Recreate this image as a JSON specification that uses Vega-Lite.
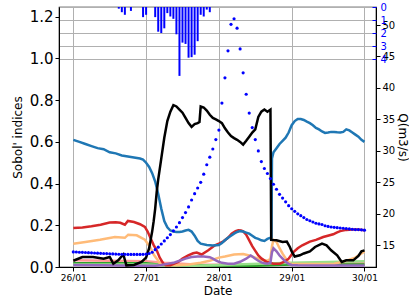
{
 "$schema": "https://vega.github.io/schema/vega-lite/v6.json",
 "width": 317, "height": 260,
 "autosize": {"type": "none"},
 "padding": {"left": 59, "top": 7, "right": 33, "bottom": 33},
 "config": {"font": "DejaVu Sans", "view": {"stroke": "#000", "strokeWidth": 1.2},
   "axis": {"domainColor": "#000", "tickColor": "#000", "labelColor": "#000", "titleColor": "#000", "titleFontWeight": "normal", "gridColor": "#b0b0b0", "gridWidth": 1, "tickSize": 4, "labelPadding": 2}},
 "datasets": {
  "sobol": [
   {"t":"2021-01-26T00:00","s":"p1","v":0.032},{"t":"2021-01-26T12:00","s":"p1","v":0.03},{"t":"2021-01-27T00:00","s":"p1","v":0.028},{"t":"2021-01-27T06:00","s":"p1","v":0.02},{"t":"2021-01-27T16:00","s":"p1","v":0.012},{"t":"2021-01-28T12:00","s":"p1","v":0.01},{"t":"2021-01-29T00:00","s":"p1","v":0.015},{"t":"2021-01-30T00:00","s":"p1","v":0.02},
   {"t":"2021-01-26T00:00","s":"p2","v":0.018},{"t":"2021-01-27T00:00","s":"p2","v":0.018},{"t":"2021-01-27T06:00","s":"p2","v":0.008},{"t":"2021-01-28T12:00","s":"p2","v":0.006},{"t":"2021-01-29T00:00","s":"p2","v":0.012},{"t":"2021-01-30T00:00","s":"p2","v":0.012},
   {"t":"2021-01-26T00:00","s":"p3","v":0.012},{"t":"2021-01-27T00:00","s":"p3","v":0.012},{"t":"2021-01-27T16:00","s":"p3","v":0.006},{"t":"2021-01-29T00:00","s":"p3","v":0.02},{"t":"2021-01-30T00:00","s":"p3","v":0.027},
   {"t":"2021-01-26T00:00","s":"p4","v":0.112},{"t":"2021-01-26T04:00","s":"p4","v":0.12},{"t":"2021-01-26T08:48","s":"p4","v":0.131},{"t":"2021-01-26T13:42","s":"p4","v":0.144},{"t":"2021-01-26T17:00","s":"p4","v":0.14},{"t":"2021-01-26T18:06","s":"p4","v":0.155},{"t":"2021-01-26T20:54","s":"p4","v":0.152},{"t":"2021-01-26T23:36","s":"p4","v":0.131},{"t":"2021-01-27T01:18","s":"p4","v":0.096},{"t":"2021-01-27T02:30","s":"p4","v":0.06},{"t":"2021-01-27T03:30","s":"p4","v":0.04},{"t":"2021-01-27T04:36","s":"p4","v":0.016},{"t":"2021-01-27T06:00","s":"p4","v":0.01},{"t":"2021-01-27T10:00","s":"p4","v":0.008},{"t":"2021-01-27T14:00","s":"p4","v":0.012},{"t":"2021-01-27T18:00","s":"p4","v":0.02},{"t":"2021-01-27T21:00","s":"p4","v":0.03},{"t":"2021-01-28T00:00","s":"p4","v":0.045},{"t":"2021-01-28T02:00","s":"p4","v":0.05},{"t":"2021-01-28T05:00","s":"p4","v":0.06},{"t":"2021-01-28T08:00","s":"p4","v":0.062},{"t":"2021-01-28T10:00","s":"p4","v":0.055},{"t":"2021-01-28T12:00","s":"p4","v":0.045},{"t":"2021-01-28T14:00","s":"p4","v":0.035},{"t":"2021-01-28T16:00","s":"p4","v":0.03},{"t":"2021-01-28T17:00","s":"p4","v":0.04},{"t":"2021-01-28T17:30","s":"p4","v":0.1},{"t":"2021-01-28T18:00","s":"p4","v":0.13},{"t":"2021-01-28T19:00","s":"p4","v":0.12},{"t":"2021-01-28T20:00","s":"p4","v":0.09},{"t":"2021-01-28T21:00","s":"p4","v":0.064},{"t":"2021-01-28T22:30","s":"p4","v":0.03},{"t":"2021-01-28T23:30","s":"p4","v":0.016},{"t":"2021-01-29T02:00","s":"p4","v":0.014},{"t":"2021-01-29T08:00","s":"p4","v":0.014},{"t":"2021-01-29T14:00","s":"p4","v":0.016},{"t":"2021-01-29T16:30","s":"p4","v":0.024},{"t":"2021-01-29T19:00","s":"p4","v":0.035},{"t":"2021-01-29T21:00","s":"p4","v":0.045},{"t":"2021-01-29T22:30","s":"p4","v":0.06},{"t":"2021-01-30T00:00","s":"p4","v":0.075},
   {"t":"2021-01-26T00:00","s":"p5","v":0.187},{"t":"2021-01-26T03:00","s":"p5","v":0.19},{"t":"2021-01-26T06:00","s":"p5","v":0.195},{"t":"2021-01-26T09:00","s":"p5","v":0.203},{"t":"2021-01-26T12:00","s":"p5","v":0.213},{"t":"2021-01-26T14:00","s":"p5","v":0.215},{"t":"2021-01-26T15:30","s":"p5","v":0.212},{"t":"2021-01-26T17:00","s":"p5","v":0.203},{"t":"2021-01-26T18:00","s":"p5","v":0.221},{"t":"2021-01-26T20:00","s":"p5","v":0.216},{"t":"2021-01-26T22:00","s":"p5","v":0.205},{"t":"2021-01-26T23:36","s":"p5","v":0.192},{"t":"2021-01-27T00:30","s":"p5","v":0.17},{"t":"2021-01-27T01:18","s":"p5","v":0.144},{"t":"2021-01-27T02:30","s":"p5","v":0.105},{"t":"2021-01-27T03:30","s":"p5","v":0.08},{"t":"2021-01-27T04:30","s":"p5","v":0.045},{"t":"2021-01-27T05:42","s":"p5","v":0.016},{"t":"2021-01-27T06:30","s":"p5","v":0.008},{"t":"2021-01-27T08:00","s":"p5","v":0.008},{"t":"2021-01-27T10:36","s":"p5","v":0.024},{"t":"2021-01-27T12:00","s":"p5","v":0.04},{"t":"2021-01-27T13:54","s":"p5","v":0.056},{"t":"2021-01-27T15:30","s":"p5","v":0.066},{"t":"2021-01-27T16:42","s":"p5","v":0.069},{"t":"2021-01-27T18:18","s":"p5","v":0.06},{"t":"2021-01-27T20:30","s":"p5","v":0.08},{"t":"2021-01-27T22:42","s":"p5","v":0.104},{"t":"2021-01-28T00:00","s":"p5","v":0.112},{"t":"2021-01-28T01:30","s":"p5","v":0.123},{"t":"2021-01-28T03:00","s":"p5","v":0.14},{"t":"2021-01-28T04:12","s":"p5","v":0.16},{"t":"2021-01-28T05:30","s":"p5","v":0.172},{"t":"2021-01-28T06:24","s":"p5","v":0.176},{"t":"2021-01-28T07:18","s":"p5","v":0.175},{"t":"2021-01-28T08:00","s":"p5","v":0.171},{"t":"2021-01-28T09:00","s":"p5","v":0.155},{"t":"2021-01-28T09:42","s":"p5","v":0.136},{"t":"2021-01-28T11:00","s":"p5","v":0.1},{"t":"2021-01-28T11:54","s":"p5","v":0.08},{"t":"2021-01-28T13:00","s":"p5","v":0.055},{"t":"2021-01-28T14:06","s":"p5","v":0.04},{"t":"2021-01-28T15:48","s":"p5","v":0.024},{"t":"2021-01-28T18:00","s":"p5","v":0.016},{"t":"2021-01-28T20:06","s":"p5","v":0.016},{"t":"2021-01-28T21:30","s":"p5","v":0.025},{"t":"2021-01-28T23:00","s":"p5","v":0.04},{"t":"2021-01-29T00:30","s":"p5","v":0.07},{"t":"2021-01-29T02:00","s":"p5","v":0.09},{"t":"2021-01-29T03:30","s":"p5","v":0.104},{"t":"2021-01-29T06:00","s":"p5","v":0.122},{"t":"2021-01-29T08:00","s":"p5","v":0.13},{"t":"2021-01-29T10:24","s":"p5","v":0.144},{"t":"2021-01-29T13:42","s":"p5","v":0.157},{"t":"2021-01-29T14:48","s":"p5","v":0.165},{"t":"2021-01-29T16:00","s":"p5","v":0.172},{"t":"2021-01-29T18:00","s":"p5","v":0.178},{"t":"2021-01-29T20:00","s":"p5","v":0.18},{"t":"2021-01-29T22:00","s":"p5","v":0.18},{"t":"2021-01-30T00:00","s":"p5","v":0.176},
   {"t":"2021-01-26T00:00","s":"p6","v":0.01},{"t":"2021-01-26T10:00","s":"p6","v":0.008},{"t":"2021-01-26T20:00","s":"p6","v":0.006},{"t":"2021-01-27T03:00","s":"p6","v":0.006},{"t":"2021-01-27T05:00","s":"p6","v":0.01},{"t":"2021-01-27T07:00","s":"p6","v":0.015},{"t":"2021-01-27T09:00","s":"p6","v":0.02},{"t":"2021-01-27T11:00","s":"p6","v":0.03},{"t":"2021-01-27T13:00","s":"p6","v":0.04},{"t":"2021-01-27T15:00","s":"p6","v":0.048},{"t":"2021-01-27T17:00","s":"p6","v":0.05},{"t":"2021-01-27T19:00","s":"p6","v":0.05},{"t":"2021-01-27T21:00","s":"p6","v":0.047},{"t":"2021-01-27T22:00","s":"p6","v":0.04},{"t":"2021-01-27T23:00","s":"p6","v":0.032},{"t":"2021-01-28T00:00","s":"p6","v":0.025},{"t":"2021-01-28T01:00","s":"p6","v":0.02},{"t":"2021-01-28T03:00","s":"p6","v":0.016},{"t":"2021-01-28T05:00","s":"p6","v":0.016},{"t":"2021-01-28T07:00","s":"p6","v":0.025},{"t":"2021-01-28T09:00","s":"p6","v":0.04},{"t":"2021-01-28T10:30","s":"p6","v":0.055},{"t":"2021-01-28T11:00","s":"p6","v":0.05},{"t":"2021-01-28T12:00","s":"p6","v":0.04},{"t":"2021-01-28T13:00","s":"p6","v":0.03},{"t":"2021-01-28T14:00","s":"p6","v":0.022},{"t":"2021-01-28T15:00","s":"p6","v":0.018},{"t":"2021-01-28T16:00","s":"p6","v":0.016},{"t":"2021-01-28T17:00","s":"p6","v":0.02},{"t":"2021-01-28T17:30","s":"p6","v":0.07},{"t":"2021-01-28T18:00","s":"p6","v":0.09},{"t":"2021-01-28T19:00","s":"p6","v":0.075},{"t":"2021-01-28T20:00","s":"p6","v":0.055},{"t":"2021-01-28T21:00","s":"p6","v":0.04},{"t":"2021-01-28T22:00","s":"p6","v":0.025},{"t":"2021-01-28T23:00","s":"p6","v":0.015},{"t":"2021-01-29T00:00","s":"p6","v":0.01},{"t":"2021-01-29T02:00","s":"p6","v":0.008},{"t":"2021-01-29T08:00","s":"p6","v":0.007},{"t":"2021-01-30T00:00","s":"p6","v":0.007},
   {"t":"2021-01-26T00:00","s":"p7","v":0.61},{"t":"2021-01-26T02:00","s":"p7","v":0.6},{"t":"2021-01-26T04:00","s":"p7","v":0.59},{"t":"2021-01-26T06:00","s":"p7","v":0.58},{"t":"2021-01-26T08:00","s":"p7","v":0.57},{"t":"2021-01-26T10:00","s":"p7","v":0.565},{"t":"2021-01-26T12:00","s":"p7","v":0.55},{"t":"2021-01-26T14:00","s":"p7","v":0.545},{"t":"2021-01-26T16:00","s":"p7","v":0.535},{"t":"2021-01-26T18:00","s":"p7","v":0.53},{"t":"2021-01-26T20:00","s":"p7","v":0.525},{"t":"2021-01-26T22:00","s":"p7","v":0.52},{"t":"2021-01-26T23:00","s":"p7","v":0.515},{"t":"2021-01-27T00:00","s":"p7","v":0.5},{"t":"2021-01-27T01:00","s":"p7","v":0.48},{"t":"2021-01-27T02:00","s":"p7","v":0.45},{"t":"2021-01-27T03:00","s":"p7","v":0.41},{"t":"2021-01-27T04:00","s":"p7","v":0.35},{"t":"2021-01-27T05:00","s":"p7","v":0.28},{"t":"2021-01-27T06:00","s":"p7","v":0.22},{"t":"2021-01-27T07:00","s":"p7","v":0.19},{"t":"2021-01-27T08:00","s":"p7","v":0.175},{"t":"2021-01-27T09:00","s":"p7","v":0.17},{"t":"2021-01-27T10:00","s":"p7","v":0.168},{"t":"2021-01-27T11:00","s":"p7","v":0.168},{"t":"2021-01-27T12:00","s":"p7","v":0.17},{"t":"2021-01-27T13:00","s":"p7","v":0.175},{"t":"2021-01-27T14:00","s":"p7","v":0.178},{"t":"2021-01-27T15:00","s":"p7","v":0.17},{"t":"2021-01-27T16:00","s":"p7","v":0.15},{"t":"2021-01-27T17:00","s":"p7","v":0.125},{"t":"2021-01-27T18:00","s":"p7","v":0.112},{"t":"2021-01-27T20:00","s":"p7","v":0.106},{"t":"2021-01-27T22:00","s":"p7","v":0.103},{"t":"2021-01-28T00:00","s":"p7","v":0.105},{"t":"2021-01-28T01:00","s":"p7","v":0.115},{"t":"2021-01-28T02:00","s":"p7","v":0.128},{"t":"2021-01-28T03:00","s":"p7","v":0.14},{"t":"2021-01-28T04:00","s":"p7","v":0.15},{"t":"2021-01-28T05:00","s":"p7","v":0.16},{"t":"2021-01-28T06:00","s":"p7","v":0.168},{"t":"2021-01-28T07:00","s":"p7","v":0.172},{"t":"2021-01-28T08:00","s":"p7","v":0.17},{"t":"2021-01-28T09:00","s":"p7","v":0.165},{"t":"2021-01-28T10:00","s":"p7","v":0.16},{"t":"2021-01-28T11:00","s":"p7","v":0.15},{"t":"2021-01-28T12:00","s":"p7","v":0.14},{"t":"2021-01-28T13:00","s":"p7","v":0.135},{"t":"2021-01-28T14:00","s":"p7","v":0.128},{"t":"2021-01-28T15:00","s":"p7","v":0.125},{"t":"2021-01-28T16:00","s":"p7","v":0.135},{"t":"2021-01-28T17:00","s":"p7","v":0.14},{"t":"2021-01-28T17:20","s":"p7","v":0.14},{"t":"2021-01-28T17:30","s":"p7","v":0.52},{"t":"2021-01-28T18:00","s":"p7","v":0.55},{"t":"2021-01-28T19:00","s":"p7","v":0.57},{"t":"2021-01-28T20:00","s":"p7","v":0.59},{"t":"2021-01-28T21:00","s":"p7","v":0.605},{"t":"2021-01-28T22:00","s":"p7","v":0.62},{"t":"2021-01-28T23:00","s":"p7","v":0.645},{"t":"2021-01-29T00:00","s":"p7","v":0.68},{"t":"2021-01-29T01:00","s":"p7","v":0.7},{"t":"2021-01-29T02:00","s":"p7","v":0.71},{"t":"2021-01-29T03:00","s":"p7","v":0.71},{"t":"2021-01-29T04:00","s":"p7","v":0.705},{"t":"2021-01-29T05:00","s":"p7","v":0.697},{"t":"2021-01-29T06:00","s":"p7","v":0.69},{"t":"2021-01-29T07:00","s":"p7","v":0.68},{"t":"2021-01-29T08:00","s":"p7","v":0.667},{"t":"2021-01-29T09:00","s":"p7","v":0.66},{"t":"2021-01-29T10:00","s":"p7","v":0.65},{"t":"2021-01-29T11:00","s":"p7","v":0.643},{"t":"2021-01-29T12:00","s":"p7","v":0.645},{"t":"2021-01-29T13:00","s":"p7","v":0.648},{"t":"2021-01-29T14:00","s":"p7","v":0.648},{"t":"2021-01-29T15:00","s":"p7","v":0.646},{"t":"2021-01-29T16:00","s":"p7","v":0.645},{"t":"2021-01-29T17:00","s":"p7","v":0.648},{"t":"2021-01-29T18:00","s":"p7","v":0.66},{"t":"2021-01-29T19:00","s":"p7","v":0.655},{"t":"2021-01-29T20:00","s":"p7","v":0.645},{"t":"2021-01-29T21:00","s":"p7","v":0.635},{"t":"2021-01-29T22:00","s":"p7","v":0.625},{"t":"2021-01-29T23:00","s":"p7","v":0.61},{"t":"2021-01-30T00:00","s":"p7","v":0.6}
  ],
  "black": [
   {"t":"2021-01-26T00:00","v":0.03},{"t":"2021-01-26T03:00","v":0.048},{"t":"2021-01-26T06:30","v":0.048},{"t":"2021-01-26T10:00","v":0.04},{"t":"2021-01-26T12:00","v":0.048},{"t":"2021-01-26T13:12","v":0.016},{"t":"2021-01-26T14:48","v":0.032},{"t":"2021-01-26T16:30","v":0.06},{"t":"2021-01-26T17:30","v":0.008},{"t":"2021-01-26T20:00","v":0.01},{"t":"2021-01-26T22:30","v":0.024},{"t":"2021-01-27T00:00","v":0.045},{"t":"2021-01-27T01:00","v":0.09},{"t":"2021-01-27T01:30","v":0.13},{"t":"2021-01-27T02:00","v":0.17},{"t":"2021-01-27T02:30","v":0.22},{"t":"2021-01-27T03:00","v":0.28},{"t":"2021-01-27T03:30","v":0.36},{"t":"2021-01-27T04:00","v":0.42},{"t":"2021-01-27T05:00","v":0.52},{"t":"2021-01-27T06:00","v":0.62},{"t":"2021-01-27T07:00","v":0.7},{"t":"2021-01-27T08:00","v":0.745},{"t":"2021-01-27T09:00","v":0.776},{"t":"2021-01-27T10:00","v":0.77},{"t":"2021-01-27T11:00","v":0.755},{"t":"2021-01-27T12:00","v":0.74},{"t":"2021-01-27T13:00","v":0.715},{"t":"2021-01-27T14:00","v":0.69},{"t":"2021-01-27T15:00","v":0.672},{"t":"2021-01-27T16:00","v":0.685},{"t":"2021-01-27T17:00","v":0.69},{"t":"2021-01-27T17:36","v":0.695},{"t":"2021-01-27T18:00","v":0.77},{"t":"2021-01-27T19:00","v":0.765},{"t":"2021-01-27T20:00","v":0.75},{"t":"2021-01-27T21:00","v":0.73},{"t":"2021-01-27T22:00","v":0.715},{"t":"2021-01-27T23:00","v":0.708},{"t":"2021-01-28T00:00","v":0.7},{"t":"2021-01-28T01:00","v":0.69},{"t":"2021-01-28T02:00","v":0.665},{"t":"2021-01-28T03:00","v":0.645},{"t":"2021-01-28T04:00","v":0.628},{"t":"2021-01-28T05:00","v":0.618},{"t":"2021-01-28T06:00","v":0.61},{"t":"2021-01-28T07:00","v":0.6},{"t":"2021-01-28T08:00","v":0.587},{"t":"2021-01-28T09:00","v":0.605},{"t":"2021-01-28T10:00","v":0.625},{"t":"2021-01-28T11:00","v":0.645},{"t":"2021-01-28T12:00","v":0.66},{"t":"2021-01-28T13:00","v":0.72},{"t":"2021-01-28T14:00","v":0.745},{"t":"2021-01-28T15:00","v":0.755},{"t":"2021-01-28T16:00","v":0.745},{"t":"2021-01-28T17:00","v":0.755},{"t":"2021-01-28T17:15","v":0.13},{"t":"2021-01-28T19:00","v":0.128},{"t":"2021-01-28T21:00","v":0.12},{"t":"2021-01-28T22:24","v":0.122},{"t":"2021-01-28T23:24","v":0.096},{"t":"2021-01-29T00:00","v":0.075},{"t":"2021-01-29T01:00","v":0.05},{"t":"2021-01-29T02:42","v":0.056},{"t":"2021-01-29T04:00","v":0.065},{"t":"2021-01-29T06:00","v":0.075},{"t":"2021-01-29T07:42","v":0.096},{"t":"2021-01-29T10:00","v":0.112},{"t":"2021-01-29T11:30","v":0.104},{"t":"2021-01-29T13:00","v":0.08},{"t":"2021-01-29T15:00","v":0.056},{"t":"2021-01-29T16:30","v":0.024},{"t":"2021-01-29T18:00","v":0.032},{"t":"2021-01-29T20:18","v":0.032},{"t":"2021-01-29T22:00","v":0.053},{"t":"2021-01-29T23:00","v":0.075},{"t":"2021-01-30T00:00","v":0.08}
  ],
  "q": [
   {"t":"2021-01-26T00:00","q":13.95},{"t":"2021-01-26T01:00","q":13.93},{"t":"2021-01-26T02:00","q":13.9},{"t":"2021-01-26T03:00","q":13.88},{"t":"2021-01-26T04:00","q":13.85},{"t":"2021-01-26T05:00","q":13.83},{"t":"2021-01-26T06:00","q":13.8},{"t":"2021-01-26T07:00","q":13.78},{"t":"2021-01-26T08:00","q":13.75},{"t":"2021-01-26T09:00","q":13.72},{"t":"2021-01-26T10:00","q":13.7},{"t":"2021-01-26T11:00","q":13.68},{"t":"2021-01-26T12:00","q":13.65},{"t":"2021-01-26T13:00","q":13.63},{"t":"2021-01-26T14:00","q":13.6},{"t":"2021-01-26T15:00","q":13.58},{"t":"2021-01-26T16:00","q":13.57},{"t":"2021-01-26T17:00","q":13.56},{"t":"2021-01-26T18:00","q":13.55},{"t":"2021-01-26T19:00","q":13.55},{"t":"2021-01-26T20:00","q":13.55},{"t":"2021-01-26T21:00","q":13.55},{"t":"2021-01-26T22:00","q":13.55},{"t":"2021-01-26T23:00","q":13.56},
   {"t":"2021-01-27T00:00","q":13.6},{"t":"2021-01-27T01:00","q":13.7},{"t":"2021-01-27T02:00","q":13.9},{"t":"2021-01-27T03:00","q":14.3},{"t":"2021-01-27T04:00","q":14.7},{"t":"2021-01-27T05:00","q":15.2},{"t":"2021-01-27T06:00","q":15.7},{"t":"2021-01-27T07:00","q":16.2},{"t":"2021-01-27T08:00","q":16.7},{"t":"2021-01-27T09:00","q":17.3},{"t":"2021-01-27T10:00","q":17.9},{"t":"2021-01-27T11:00","q":18.6},{"t":"2021-01-27T12:00","q":19.4},{"t":"2021-01-27T13:00","q":20.2},{"t":"2021-01-27T14:00","q":21.1},{"t":"2021-01-27T15:00","q":22.2},{"t":"2021-01-27T16:00","q":23.2},{"t":"2021-01-27T17:00","q":24.1},{"t":"2021-01-27T18:00","q":25.0},{"t":"2021-01-27T19:00","q":26.3},{"t":"2021-01-27T20:00","q":27.8},{"t":"2021-01-27T21:00","q":29.0},{"t":"2021-01-27T22:00","q":30.3},{"t":"2021-01-27T23:00","q":31.8},
   {"t":"2021-01-28T00:00","q":33.3},{"t":"2021-01-28T01:00","q":37.6},{"t":"2021-01-28T02:00","q":41.6},{"t":"2021-01-28T03:00","q":45.9},{"t":"2021-01-28T04:00","q":50.1},{"t":"2021-01-28T05:00","q":51.0},{"t":"2021-01-28T06:00","q":49.5},{"t":"2021-01-28T07:00","q":46.2},{"t":"2021-01-28T08:00","q":42.4},{"t":"2021-01-28T09:00","q":39.0},{"t":"2021-01-28T10:00","q":36.0},{"t":"2021-01-28T11:00","q":33.7},{"t":"2021-01-28T12:00","q":31.8},{"t":"2021-01-28T13:00","q":30.0},{"t":"2021-01-28T14:00","q":28.3},{"t":"2021-01-28T15:00","q":27.2},{"t":"2021-01-28T16:00","q":26.4},{"t":"2021-01-28T17:00","q":25.6},{"t":"2021-01-28T18:00","q":24.7},{"t":"2021-01-28T19:00","q":23.9},{"t":"2021-01-28T20:00","q":23.1},{"t":"2021-01-28T21:00","q":22.5},{"t":"2021-01-28T22:00","q":21.9},{"t":"2021-01-28T23:00","q":21.3},
   {"t":"2021-01-29T00:00","q":20.8},{"t":"2021-01-29T01:00","q":20.4},{"t":"2021-01-29T02:00","q":20.0},{"t":"2021-01-29T03:00","q":19.7},{"t":"2021-01-29T04:00","q":19.4},{"t":"2021-01-29T05:00","q":19.1},{"t":"2021-01-29T06:00","q":18.9},{"t":"2021-01-29T07:00","q":18.7},{"t":"2021-01-29T08:00","q":18.5},{"t":"2021-01-29T09:00","q":18.4},{"t":"2021-01-29T10:00","q":18.3},{"t":"2021-01-29T11:00","q":18.1},{"t":"2021-01-29T12:00","q":18.0},{"t":"2021-01-29T13:00","q":17.9},{"t":"2021-01-29T14:00","q":17.85},{"t":"2021-01-29T15:00","q":17.8},{"t":"2021-01-29T16:00","q":17.75},{"t":"2021-01-29T17:00","q":17.7},{"t":"2021-01-29T18:00","q":17.65},{"t":"2021-01-29T19:00","q":17.6},{"t":"2021-01-29T20:00","q":17.55},{"t":"2021-01-29T21:00","q":17.5},{"t":"2021-01-29T22:00","q":17.5},{"t":"2021-01-29T23:00","q":17.45},{"t":"2021-01-30T00:00","q":17.4}
  ],
  "rain": [
   {"t":"2021-01-26T15:00","r":0.13},{"t":"2021-01-26T16:00","r":0.4},{"t":"2021-01-26T17:00","r":0.6},{"t":"2021-01-26T19:00","r":0.3},{"t":"2021-01-26T23:00","r":0.78},{"t":"2021-01-27T00:00","r":0.6},{"t":"2021-01-27T03:00","r":0.78},{"t":"2021-01-27T04:00","r":1.9},{"t":"2021-01-27T05:00","r":2.0},{"t":"2021-01-27T06:00","r":1.64},{"t":"2021-01-27T07:00","r":0.47},{"t":"2021-01-27T08:00","r":0.73},{"t":"2021-01-27T09:00","r":0.91},{"t":"2021-01-27T10:00","r":2.1},{"t":"2021-01-27T11:00","r":5.3},{"t":"2021-01-27T12:00","r":2.74},{"t":"2021-01-27T13:00","r":2.84},{"t":"2021-01-27T14:00","r":3.9},{"t":"2021-01-27T15:00","r":3.86},{"t":"2021-01-27T16:00","r":3.67},{"t":"2021-01-27T17:00","r":2.63},{"t":"2021-01-27T18:00","r":0.6},{"t":"2021-01-27T19:00","r":0.73},{"t":"2021-01-27T20:00","r":0.2},{"t":"2021-01-27T21:00","r":0.4}
  ]
 },
 "layer": [
  {"layer": [
   {"data": {"name": "sobol"},
    "mark": {"type": "line", "strokeWidth": 2.5},
    "encoding": {
     "x": {"field": "t", "type": "temporal",
       "scale": {"domain": [{"year": 2021, "month": 1, "date": 25, "hours": 19, "minutes": 17}, {"year": 2021, "month": 1, "date": 30, "hours": 3, "minutes": 48}]},
       "axis": {"title": "Date", "titleFontSize": 12, "labelFontSize": 9, "format": "%d/%m", "grid": true, "titlePadding": 3,
         "values": [{"year": 2021, "month": 1, "date": 26}, {"year": 2021, "month": 1, "date": 27}, {"year": 2021, "month": 1, "date": 28}, {"year": 2021, "month": 1, "date": 29}, {"year": 2021, "month": 1, "date": 30}]}},
     "y": {"field": "v", "type": "quantitative", "scale": {"domain": [0, 1.247], "nice": false},
       "axis": {"orient": "left", "title": "Sobol' indices", "titleFontSize": 12, "labelFontSize": 15, "format": ".1f", "grid": false, "titlePadding": 5, "values": [0, 0.2, 0.4, 0.6, 0.8, 1.0, 1.2]}},
     "color": {"field": "s", "type": "nominal", "legend": null,
       "scale": {"domain": ["p1", "p2", "p3", "p4", "p5", "p6", "p7"], "range": ["#ff9896", "#2ca02c", "#98df8a", "#ffbb78", "#d62728", "#9467bd", "#1f77b4"]}}
    }},
   {"data": {"name": "black"},
    "mark": {"type": "line", "strokeWidth": 2.5, "color": "#000000"},
    "encoding": {
     "x": {"field": "t", "type": "temporal"},
     "y": {"field": "v", "type": "quantitative"}
    }}
  ]},
  {"data": {"name": "q"},
   "mark": {"type": "circle", "size": 10, "color": "#0000ff", "opacity": 1},
   "encoding": {
    "x": {"field": "t", "type": "temporal"},
    "y": {"field": "q", "type": "quantitative", "scale": {"domain": [11.55, 52.86], "nice": false, "zero": false},
      "axis": {"orient": "right", "title": "Q(m3/s)", "titleFontSize": 12, "titlePadding": 1, "labelFontSize": 10, "grid": false, "values": [15, 20, 25, 30, 35, 40, 45, 50]}}
   }},
  {"data": {"name": "rain"},
   "mark": {"type": "rule", "strokeWidth": 2, "color": "#0000ff"},
   "encoding": {
    "x": {"field": "t", "type": "temporal"},
    "y": {"field": "r", "type": "quantitative", "scale": {"domain": [0, 20], "reverse": true, "nice": false},
      "axis": {"orient": "right", "offset": -4, "title": null, "grid": true, "domain": false, "tickColor": "#0000ff", "labelColor": "#0000ff", "labelFontSize": 10, "labelPadding": 4, "values": [0, 1, 2, 3, 4]}},
    "y2": {"datum": 0}
   }}
 ],
 "resolve": {"scale": {"y": "independent"}}
}
